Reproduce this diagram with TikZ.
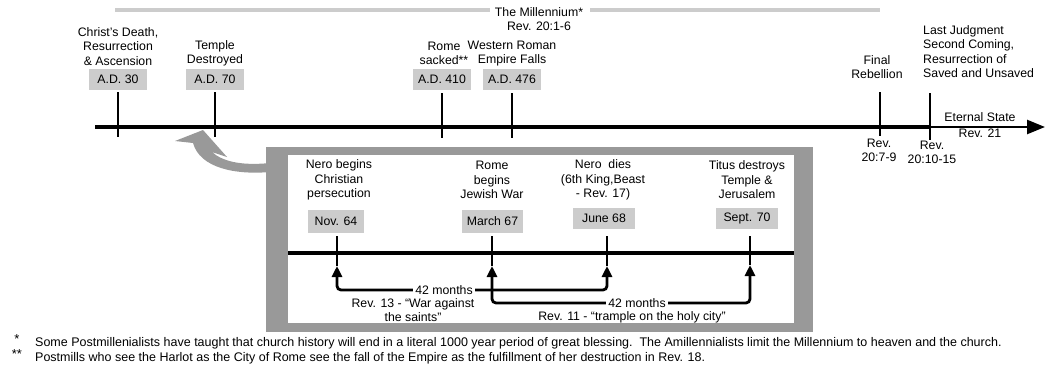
\documentclass[tikz,border=0pt]{standalone}
\usepackage{fontspec}
\setmainfont{Liberation Sans}
\usetikzlibrary{arrows.meta}
\definecolor{boxgray}{RGB}{204,204,204}
\definecolor{framegray}{RGB}{153,153,153}

\begin{document}
\begin{tikzpicture}[x=1pt,y=-1pt,
	every node/.style={font=\fontsize{12.3}{14.5}\selectfont,align=center,inner sep=0pt},
	datebox/.style={fill=boxgray,minimum width=58pt,minimum height=21pt},
	tick/.style={line width=1.6pt},
	era/.style={line width=4.6pt},
	span/.style={line width=2.8pt,rounded corners=4pt,{Triangle[width=10pt,length=11pt]}-{Triangle[width=10pt,length=11pt]}},
	gap/.style={fill=white,inner xsep=2pt,inner ysep=1pt},
	note/.style={font=\fontsize{12.5}{14.5}\selectfont,anchor=west}]
		\useasboundingbox (0,0) rectangle (1050,375);

		% millennium bar
		\node (mill) at (539,12) {The Millennium*};
		\node (millref) at (539,26) {Rev. 20:1-6};
		\coordinate (barl) at (115,10);
		\coordinate (barr) at (880,10);
		\draw [boxgray,line width=4pt] (barl) -- ([xshift=-5pt]barl -| mill.west);
		\draw [boxgray,line width=4pt] ([xshift=7pt]mill.east |- barr) -- (barr);

		% main line
		\coordinate (tlstart) at (95,127);
		\coordinate (tlsplit) at (930,127);
		\coordinate (tlend) at (1045,127);
		\draw [era] (tlstart) to (tlsplit);
		\draw [line width=2.5pt,-{Triangle[width=14pt,length=18pt]}] (tlsplit) to (tlend);

		\node (lab30) at (118,46.5) {Christ’s Death,\\Resurrection\\\& Ascension};
		\node [datebox] (d30) at (118,79.5) {A.D. 30};
		\node (lab70) at (215,53.5) {Temple\\Destroyed};
		\node [datebox] (d70) at (215,79.5) {A.D. 70};
		\node (lab410) at (444,53.5) {Rome\\sacked**};
		\node [datebox] (d410) at (442,79.5) {A.D. 410};
		\node (lab476) at (512,53.5) {Western Roman\\Empire Falls};
		\node [datebox] (d476) at (512,79.5) {A.D. 476};
		\draw [tick] ([yshift=-2pt]d30.south) -- ++(0,45);
		\draw [tick] ([yshift=-2pt]d70.south) -- ++(0,45);
		\draw [tick] ([yshift=-3pt]d410.south) -- ++(0,45);
		\draw [tick] ([yshift=-3pt]d476.south) -- ++(0,45);

		\node (rebel) at (877,67) {Final\\Rebellion};
		\coordinate (rebtick) at (880,92);
		\draw [tick] (rebtick) -- ++(0,44);
		\node (rebref) at (879,150.5) {Rev.\\20:7-9};
		\node [align=left,anchor=west] (judg) at (923,51.5) {Last Judgment\\Second Coming,\\Resurrection of\\Saved and Unsaved};
		\coordinate (judtick) at (930,93);
		\draw [tick] (judtick) -- ++(0,47);
		\node (judref) at (932,152.5) {Rev.\\20:10-15};
		\node (eternal) at (980,117) {Eternal State};
		\node (eternref) at (980,133) {Rev. 21};

		% inset
		\fill [framegray] (203,130) -- (175,141) -- (193,143) .. controls (200,168) and (235,175) .. (270,172) -- (270,163) .. controls (240,166) and (222,161) .. (212,152) -- (227,157) -- cycle;
		\fill [framegray] (266,147) rectangle (813,332);
		\fill [white] (288,155) rectangle (794,323);
		\coordinate (inl) at (288,253);
		\coordinate (inr) at (794,253);
		\draw [era] (inl) to (inr);

		\node (labnov) at (339,180) {Nero begins\\Christian\\persecution};
		\node [datebox,minimum width=56pt,minimum height=23pt] (nov) at (336,221.5) {Nov. 64};
		\node (labmar) at (492,180) {Rome\\begins\\Jewish War};
		\node [datebox,minimum width=61pt,minimum height=23pt] (mar) at (492.5,221.5) {March 67};
		\node (labjun) at (603,180) {Nero\ \ dies\\(6th King,Beast\\- Rev. 17)};
		\node [datebox,minimum width=62pt] (jun) at (604,218.5) {June 68};
		\node (labsep) at (747,180) {Titus destroys\\Temple \&\\Jerusalem};
		\node [datebox,minimum width=62pt] (sep) at (747,218.5) {Sept. 70};

		\coordinate (tnov) at (337,266);
		\coordinate (tmar) at (492,266);
		\coordinate (tjun) at (607,266);
		\coordinate (tsep) at (750,265);
		\draw [tick] (tnov |- 0,236) -- (tnov);
		\draw [tick] (tmar |- 0,236) -- (tmar);
		\draw [tick] (tjun |- 0,236) -- (tjun);
		\draw [tick] (tsep |- 0,236) -- (tsep);

		\draw [span] (tnov) -- (tnov |- 0,290) -- (tjun |- 0,290) -- (tjun);
		\draw [span] (tmar) -- (tmar |- 0,303) -- (tsep |- 0,303) -- (tsep);
		\node [gap] (m1) at (444,290) {42 months};
		\node (ref13) at (413,310) {Rev. 13 - “War against\\the saints”};
		\node [gap] (m2) at (637,303) {42 months};
		\node (ref11) at (632,317) {Rev. 11 - “trample on the holy city”};

		% notes
		\node [font=\fontsize{13}{14}\selectfont] (star1) at (17,339) {*};
		\node [note] (note1) at (35,343) {Some Postmillenialists have taught that church history will end in a literal 1000 year period of great blessing.\ \ The Amillennialists limit the Millennium to heaven and the church.};
		\node [font=\fontsize{13}{14}\selectfont] (star2) at (17,354) {**};
		\node [note] (note2) at (35,358) {Postmills who see the Harlot as the City of Rome see the fall of the Empire as the fulfillment of her destruction in Rev. 18.};
		\end{tikzpicture}
\end{document}
